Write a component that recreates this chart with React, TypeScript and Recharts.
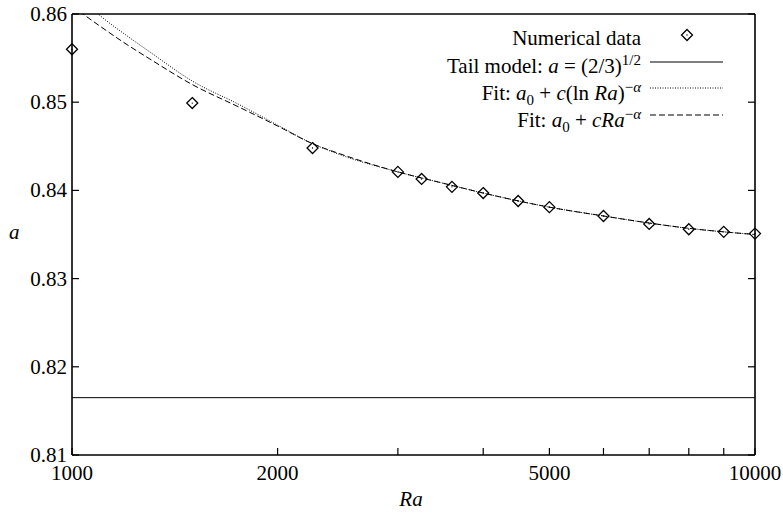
import React from 'react';
import { ComposedChart, Line, Scatter, XAxis, YAxis } from 'recharts';

const FONT = 'Liberation Serif, DejaVu Serif, serif';
const txt = { fontFamily: FONT, fontSize: 21 };
const TICK_COLOR = '#000';
const TICK_LEN = 7;

// Axis ticks
const raTicks = [1000, 2000, 3000, 4000, 5000, 6000, 7000, 8000, 9000, 10000];
const raLabels = [1000, 2000, 5000, 10000];
const aTicks = [0.81, 0.82, 0.83, 0.84, 0.85, 0.86];

// Numerical data (diamonds)
const numRa = [1000, 1500, 2250, 3000, 3250, 3600, 4000, 4500, 5000, 6000, 7000, 8000, 9000, 10000];
const numA = [0.856, 0.8499, 0.8448, 0.8421, 0.8413, 0.8404, 0.8397, 0.8388, 0.8381, 0.8371, 0.8362, 0.8356, 0.8353, 0.8351];

// Tail model a = (2/3)^(1/2)
const tailRa = [1000, 10000];
const tailA = [0.8165, 0.8165];

// Fit: a0 + c (ln Ra)^-alpha  (dotted)
const fitLnRa = [1000, 1100, 1200, 1300, 1500, 1750, 2000, 2250, 2500, 3000, 3500, 4000, 5000, 6000, 7000, 8000, 9000, 10000];
const fitLnA = [0.8628, 0.8598, 0.8576, 0.8557, 0.8524, 0.8498, 0.8474, 0.8453, 0.8439, 0.8421, 0.8408, 0.8397, 0.8381, 0.8371, 0.8363, 0.8357, 0.8353, 0.835];

// Fit: a0 + c Ra^-alpha  (dashed)
const fitPowRa = [1000, 1100, 1200, 1300, 1500, 1750, 2000, 2250, 2500, 3000, 3500, 4000, 5000, 6000, 7000, 8000, 9000, 10000];
const fitPowA = [0.8609, 0.8586, 0.8566, 0.8549, 0.852, 0.8495, 0.8473, 0.8453, 0.844, 0.8421, 0.8408, 0.8397, 0.8381, 0.8371, 0.8363, 0.8357, 0.8353, 0.835];

const zip = (xs: number[], ys: number[]) => xs.map((x, i) => ({ ra: x, a: ys[i] }));
const numData = zip(numRa, numA);
const tailData = zip(tailRa, tailA);
const fitLnData = zip(fitLnRa, fitLnA);
const fitPowData = zip(fitPowRa, fitPowA);

// With tickSize=0 and tickMargin=0 the tick anchor sits on the axis line.
const BottomTick = (p: any) => {
  const { x, y, payload } = p;
  const v = payload.value;
  return (
    <g>
      <line x1={x} y1={y} x2={x} y2={y - TICK_LEN} stroke={TICK_COLOR} strokeWidth={1.2} />
      {raLabels.includes(v) && (
        <text x={x} y={y + 25} textAnchor="middle" style={txt} fill="#000">
          {v}
        </text>
      )}
    </g>
  );
};

const TopTick = (p: any) => {
  const { x, y } = p;
  return <line x1={x} y1={y} x2={x} y2={y + TICK_LEN} stroke={TICK_COLOR} strokeWidth={1.2} />;
};

const LeftTick = (p: any) => {
  const { x, y, payload } = p;
  return (
    <g>
      <line x1={x} y1={y} x2={x + TICK_LEN} y2={y} stroke={TICK_COLOR} strokeWidth={1.2} />
      <text x={x - 5} y={y + 7} textAnchor="end" style={txt} fill="#000">
        {payload.value.toFixed(2)}
      </text>
    </g>
  );
};

const RightTick = (p: any) => {
  const { x, y } = p;
  return <line x1={x} y1={y} x2={x - TICK_LEN} y2={y} stroke={TICK_COLOR} strokeWidth={1.2} />;
};

const Diamond = (p: any) => {
  const { cx, cy } = p;
  if (cx == null || cy == null) return null;
  const r = 5.5;
  return (
    <g>
      <polygon
        points={`${cx},${cy - r} ${cx + r},${cy} ${cx},${cy + r} ${cx - r},${cy}`}
        fill="none"
        stroke="#000"
        strokeWidth={1.3}
      />
      <circle cx={cx} cy={cy} r={0.7} fill="#000" />
    </g>
  );
};

const LegendBlock = () => {
  const tx = 641;
  const lx1 = 650;
  const lx2 = 723;
  const common = { style: txt, fill: '#000', textAnchor: 'end' as const };
  const small = { fontSize: 15 };
  return (
    <g>
      <text x={tx} y={45} {...common}>Numerical data</text>
      <Diamond cx={687} cy={35} />

      <text x={tx} y={73} {...common}>
        Tail model: <tspan fontStyle="italic">a</tspan> = (2/3)
        <tspan dy={-8} style={small}>1/2</tspan>
      </text>
      <line x1={lx1} y1={62} x2={lx2} y2={62} stroke="#000" strokeWidth={1.2} />

      <text x={tx} y={100} {...common}>
        Fit: <tspan fontStyle="italic">a</tspan>
        <tspan dy={5} style={small}>0</tspan>
        <tspan dy={-5}> + </tspan>
        <tspan fontStyle="italic">c</tspan>(ln <tspan fontStyle="italic">Ra</tspan>)
        <tspan dy={-8} style={small}>−</tspan>
        <tspan style={small} fontStyle="italic">α</tspan>
      </text>
      <line x1={lx1} y1={88} x2={lx2} y2={88} stroke="#000" strokeWidth={1} strokeDasharray="1 1.5" />

      <text x={tx} y={127} {...common}>
        Fit: <tspan fontStyle="italic">a</tspan>
        <tspan dy={5} style={small}>0</tspan>
        <tspan dy={-5}> + </tspan>
        <tspan fontStyle="italic">cRa</tspan>
        <tspan dy={-8} style={small}>−</tspan>
        <tspan style={small} fontStyle="italic">α</tspan>
      </text>
      <line x1={lx1} y1={115} x2={lx2} y2={115} stroke="#000" strokeWidth={1} strokeDasharray="6 3" />

      <text x={9} y={239} style={txt} fontStyle="italic" fill="#000">a</text>
      <text x={411} y={506} style={txt} fontStyle="italic" fill="#000" textAnchor="middle">Ra</text>
    </g>
  );
};

const axisLineStyle = { stroke: '#000', strokeWidth: 1.6 };

export default function App() {
  return (
    <div style={{ position: 'absolute', left: 0, top: 0, width: 783, height: 517 }}>
      <ComposedChart width={783} height={517} margin={{ top: 13, right: 27, bottom: 0, left: 0 }}>
        <XAxis
          xAxisId="b"
          dataKey="ra"
          type="number"
          scale="log"
          domain={[1000, 10000]}
          ticks={raTicks}
          orientation="bottom"
          height={62}
          tickSize={0}
          tickMargin={0}
          tickLine={false}
          tick={<BottomTick />}
          axisLine={axisLineStyle}
          interval={0}
        />
        <XAxis
          xAxisId="t"
          dataKey="ra"
          type="number"
          scale="log"
          domain={[1000, 10000]}
          ticks={raTicks}
          orientation="top"
          height={1}
          tickSize={0}
          tickMargin={0}
          tickLine={false}
          tick={<TopTick />}
          axisLine={axisLineStyle}
          interval={0}
        />
        <YAxis
          yAxisId="l"
          dataKey="a"
          type="number"
          domain={[0.81, 0.86]}
          allowDataOverflow
          ticks={aTicks}
          orientation="left"
          width={72}
          tickSize={0}
          tickMargin={0}
          tickLine={false}
          tick={<LeftTick />}
          axisLine={axisLineStyle}
          interval={0}
        />
        <YAxis
          yAxisId="r"
          dataKey="a"
          type="number"
          domain={[0.81, 0.86]}
          ticks={aTicks}
          orientation="right"
          width={1}
          tickSize={0}
          tickMargin={0}
          tickLine={false}
          tick={<RightTick />}
          axisLine={axisLineStyle}
          interval={0}
        />
        <Line xAxisId="b" yAxisId="l" data={tailData} dataKey="a" type="linear" stroke="#000" strokeWidth={1} dot={false} activeDot={false} isAnimationActive={false} />
        <Line xAxisId="b" yAxisId="l" data={fitLnData} dataKey="a" type="monotone" stroke="#000" strokeWidth={1} strokeDasharray="1 1.5" dot={false} activeDot={false} isAnimationActive={false} />
        <Line xAxisId="b" yAxisId="l" data={fitPowData} dataKey="a" type="monotone" stroke="#000" strokeWidth={1} strokeDasharray="6 3" dot={false} activeDot={false} isAnimationActive={false} />
        <Scatter xAxisId="b" yAxisId="r" data={numData} dataKey="a" shape={<Diamond />} isAnimationActive={false} />
        <LegendBlock />
      </ComposedChart>
    </div>
  );
}
